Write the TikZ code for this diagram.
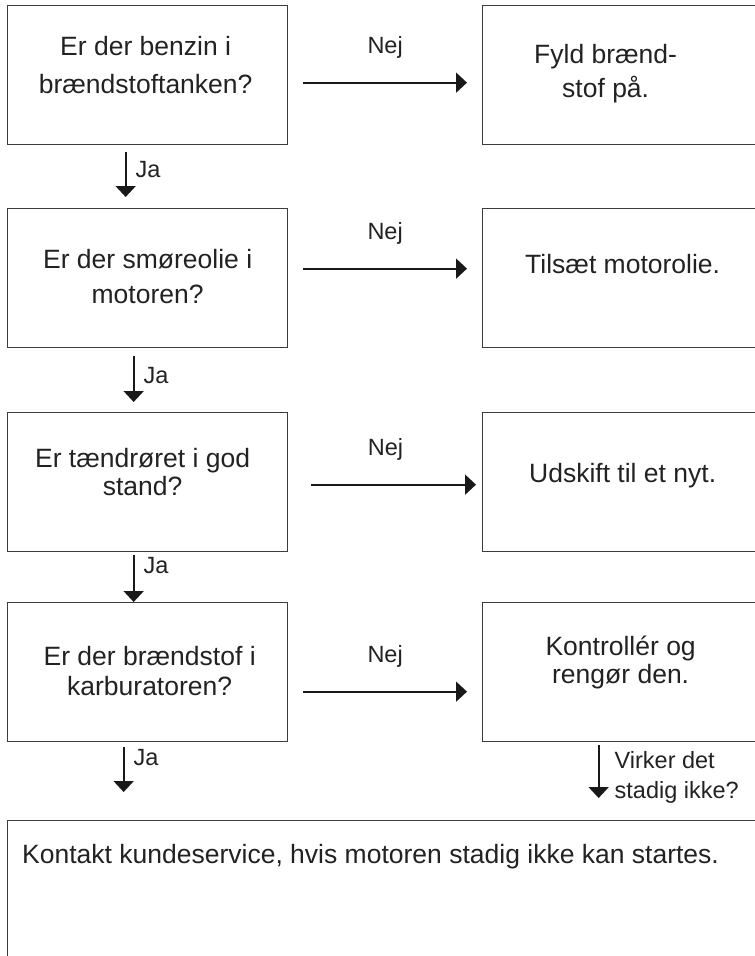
\documentclass[tikz,border=0pt]{standalone}
\usepackage{fontspec}
\setmainfont{Liberation Sans}
\usetikzlibrary{arrows.meta,calc}
\definecolor{BoxLine}{RGB}{60,60,60}
\definecolor{TxtC}{RGB}{34,34,34}
\tikzset{
  qbox/.style={rectangle,draw=BoxLine,line width=1.3pt,anchor=north west,inner sep=0pt},
  lbox/.style={qbox,minimum width=280pt,minimum height=139pt},
  rbox/.style={qbox,minimum width=278pt,minimum height=139pt},
  qtxt/.style={align=center,anchor=base,text=TxtC,inner sep=0pt,
               font=\fontsize{26.5}{30}\selectfont},
  lbl/.style={text=TxtC,inner sep=0pt,font=\fontsize{23.5}{30}\selectfont},
  nej/.style={lbl,anchor=base,yshift=29pt},
  ja/.style={lbl,anchor=base west,xshift=9pt},
  flow/.style={-{Triangle[length=11pt,width=20pt]},line width=2pt,black!90},
}

\begin{document}
\begin{tikzpicture}[x=1pt,y=-1pt]
  \clip (0,0) rectangle (755,956);
  % spoergsmaal til venstre
  \node[lbox] (q1) at (7,5) {};
  \node[lbox] (q2) at (7,208) {};
  \node[lbox] (q3) at (7,412) {};
  \node[lbox] (q4) at (7,602) {};
  % hvad man goer til hoejre
  \node[rbox] (a1) at (482,5) {};
  \node[rbox] (a2) at (482,208) {};
  \node[rbox] (a3) at (482,412) {};
  \node[rbox] (a4) at (482,602) {};
  \node[qbox,minimum width=760pt,minimum height=160pt] (fin) at (7,820) {};

  \node[qtxt] (t1) at ([shift={(-2,88)}]q1.north) {Er der benzin i\\[8pt]brændstoftanken?};
  \node[qtxt] (t2) at ([shift={(0,95)}]q2.north) {Er der smøreolie i\\[5pt]motoren?};
  \node[qtxt] (t3) at ([shift={(-5,83)}]q3.north) {Er tændrøret i god\\[-2pt]stand?};
  \node[qtxt] (t4) at ([shift={(2,93)}]q4.north) {Er der brændstof i\\karburatoren?};
  \node[qtxt] (s1) at ([shift={(-16,92)}]a1.north) {Fyld brænd-\\[4pt]stof på.};
  \node[qtxt] (s2) at ([shift={(1,65)}]a2.north) {Tilsæt motorolie.};
  \node[qtxt] (s3) at ([shift={(1,70)}]a3.north) {Udskift til et nyt.};
  \node[qtxt] (s4) at ([shift={(-1,81)}]a4.north) {Kontrollér og\\[-2pt]rengør den.};
  \node[qtxt,anchor=base west,align=left] (tf) at ([shift={(15,43)}]fin.north west)
    {Kontakt kundeservice, hvis motoren stadig ikke kan startes.};

  % nej
  \draw[flow] ([shift={(15,7.5)}]q1.east) -- node[nej] (n1) {Nej} ([shift={(-15,7.5)}]a1.west);
  \draw[flow] ([shift={(15,-9.5)}]q2.east) -- node[nej] (n2) {Nej} ([shift={(-15,-9.5)}]a2.west);
  \draw[flow] ([shift={(23,2.5)}]q3.east) -- node[nej,pos=0.45] (n3) {Nej} ([shift={(-6,2.5)}]a3.west);
  \draw[flow] ([shift={(15,19.5)}]q4.east) -- node[nej] (n4) {Nej} ([shift={(-15,19.5)}]a4.west);
  % ja
  \draw[flow] ([shift={(-22,7)}]q1.south) -- node[ja,pos=0.56] (j1) {Ja} ([shift={(-22,-11)}]q2.north);
  \draw[flow] ([shift={(-14,8)}]q2.south) -- node[ja,pos=0.6] (j2) {Ja} ([shift={(-14,-10)}]q3.north);
  \draw[flow] ([shift={(-14,3)}]q3.south) -- node[ja,pos=0.4] (j3) {Ja} ([shift={(-14,0)}]q4.north);
  \draw[flow] ([shift={(-24,5)}]q4.south) -- node[ja,pos=0.41] (j4) {Ja} ($(fin.north -| q4.south)+(-24,-28)$);
  \draw[flow] ([shift={(-23,3)}]a4.south) -- node[ja,pos=1,xshift=6pt,align=left] (v1)
    {Virker det\\stadig ikke?} ($(fin.north -| a4.south)+(-23,-22)$);
\end{tikzpicture}
\end{document}
